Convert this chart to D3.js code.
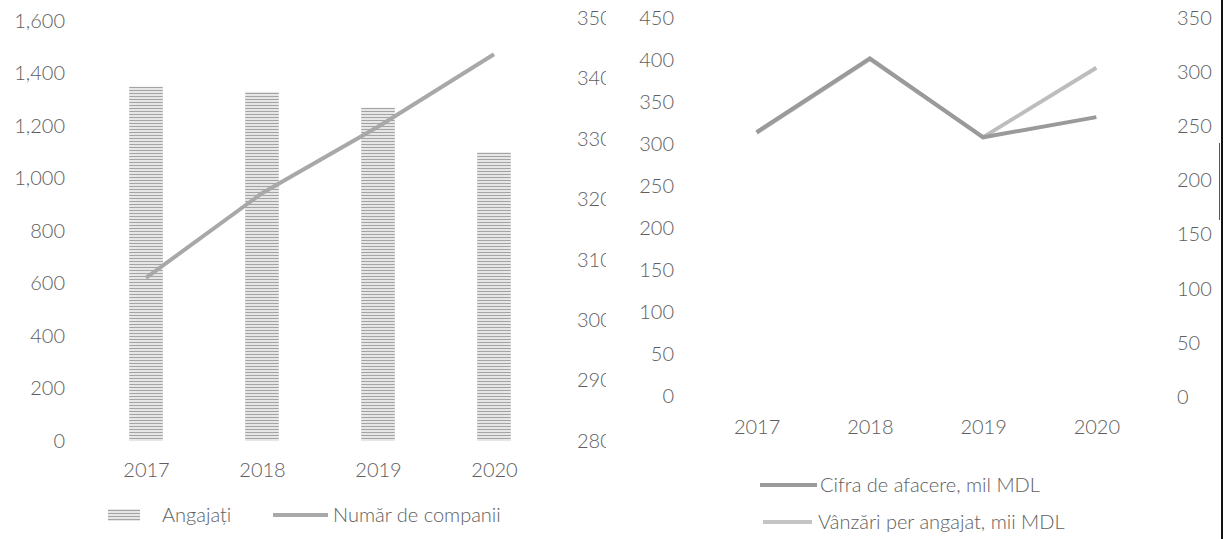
<!DOCTYPE html>
<html>
<head>
<meta charset="utf-8">
<script src="https://cdn.jsdelivr.net/npm/d3@7"></script>
<style>
  html, body { margin: 0; padding: 0; background: #fff; }
  svg { display: block; }
</style>
</head>
<body>
<svg id="chart" width="1225" height="539"></svg>
<script>
// Values
const years = ["2017", "2018", "2019", "2020"];
const angajati = [1350, 1330, 1270, 1100];
const companii = [307, 321, 332, 344];
const cifra = [314, 402, 308, 332];
const vanzari = [244, 312, 240, 304];

const ticksAngajati = [0, 200, 400, 600, 800, 1000, 1200, 1400, 1600];
const ticksCompanii = [280, 290, 300, 310, 320, 330, 340, 350];
const ticksCifra = [0, 50, 100, 150, 200, 250, 300, 350, 400, 450];
const ticksVanzari = [0, 50, 100, 150, 200, 250, 300, 350];

const font = "Lato, 'Open Sans', sans-serif";
const textColor = "#5e5e5e";

const svg = d3.select("#chart");

// halftone-ish fill, the original is a grey scan
const defs = svg.append("defs");
const pat = defs.append("pattern").attr("id", "scan")
    .attr("patternUnits", "userSpaceOnUse").attr("width", 3).attr("height", 3);
pat.append("rect").attr("width", 3).attr("height", 3).attr("fill", "#e6e6e6");
pat.append("rect").attr("width", 3).attr("height", 1).attr("fill", "#a4a4a4");

// Style an axis group: no domain/ticks, our font
function plain(g) {
    g.select(".domain").remove();
    g.selectAll(".tick line").remove();
    g.attr("font-family", font).attr("font-size", 20).attr("font-weight", 300).attr("color", textColor);
}

// ---------- left panel: Angajați (bars) + Număr de companii (line) ----------
const xA = d3.scalePoint().domain(years).range([88, 552]).padding(0.5);
const yA = d3.scaleLinear().domain([0, 1600]).range([441, 21]);
const yA2 = d3.scaleLinear().domain([280, 350]).range([441, 18]);
const barW = xA.step() * 0.29;

svg.append("g")
    .attr("transform", "translate(65,0)")
    .call(d3.axisLeft(yA).tickValues(ticksAngajati).tickFormat(d3.format(",")).tickSize(0).tickPadding(0))
    .call(plain);

// right-hand labels are cut off in the original
defs.append("clipPath").attr("id", "cutA")
    .append("rect").attr("x", 560).attr("y", 0).attr("width", 46).attr("height", 539);

svg.append("g")
    .attr("clip-path", "url(#cutA)")
    .append("g")
    .attr("transform", "translate(577,0)")
    .call(d3.axisRight(yA2).tickValues(ticksCompanii).tickSize(0).tickPadding(0))
    .call(plain);

svg.append("g")
    .attr("transform", "translate(0,470)")
    .call(d3.axisBottom(xA).tickSize(0).tickPadding(0))
    .call(plain)
    .call(g => g.selectAll("text").attr("y", 0).attr("dy", "0.35em"));

svg.append("g")
    .selectAll("rect")
    .data(years)
    .join("rect")
    .attr("x", (d) => xA(d) - barW / 2)
    .attr("width", barW)
    .attr("y", (d, i) => yA(angajati[i]))
    .attr("height", (d, i) => yA(0) - yA(angajati[i]))
    .attr("fill", "url(#scan)");

svg.append("path")
    .datum(companii)
    .attr("fill", "none")
    .attr("stroke", "#a8a8a8")
    .attr("stroke-width", 4)
    .attr("d", d3.line().x((d, i) => xA(years[i])).y(d => yA2(d)));

// ---------- right panel: Cifra de afacere + Vânzări per angajat ----------
const xB = d3.scalePoint().domain(years).range([700, 1153]).padding(0.5);
const yB = d3.scaleLinear().domain([0, 450]).range([396, 18]);
const yB2 = d3.scaleLinear().domain([0, 350]).range([397, 18]);

svg.append("g")
    .attr("transform", "translate(674,0)")
    .call(d3.axisLeft(yB).tickValues(ticksCifra).tickSize(0).tickPadding(0))
    .call(plain);

svg.append("g")
    .attr("transform", "translate(1177,0)")
    .call(d3.axisRight(yB2).tickValues(ticksVanzari).tickSize(0).tickPadding(0))
    .call(plain);

svg.append("g")
    .attr("transform", "translate(0,427)")
    .call(d3.axisBottom(xB).tickSize(0).tickPadding(0))
    .call(plain)
    .call(g => g.selectAll("text").attr("y", 0).attr("dy", "0.35em"));

svg.append("path")
    .datum(vanzari)
    .attr("fill", "none")
    .attr("stroke", "#bdbdbd")
    .attr("stroke-width", 4)
    .attr("d", d3.line().x((d, i) => xB(years[i])).y(d => yB2(d)));

svg.append("path")
    .datum(cifra)
    .attr("fill", "none")
    .attr("stroke", "#9a9a9a")
    .attr("stroke-width", 4)
    .attr("d", d3.line().x((d, i) => xB(years[i])).y(d => yB(d)));

// ---------- legends ----------
const legend = svg.append("g").attr("font-family", font).attr("font-size", 20)
    .attr("font-weight", 300).attr("fill", textColor);

legend.append("rect").attr("x", 108).attr("y", 509).attr("width", 32).attr("height", 12).attr("fill", "url(#scan)");
legend.append("text").attr("x", 162).attr("y", 515).attr("dy", "0.35em").text("Angajați");

legend.append("line").attr("x1", 273).attr("x2", 328).attr("y1", 515).attr("y2", 515)
    .attr("stroke", "#a8a8a8").attr("stroke-width", 4);
legend.append("text").attr("x", 333).attr("y", 515).attr("dy", "0.35em").text("Număr de companii");

legend.append("line").attr("x1", 760).attr("x2", 817).attr("y1", 485).attr("y2", 485)
    .attr("stroke", "#9a9a9a").attr("stroke-width", 4);
legend.append("text").attr("x", 820).attr("y", 485).attr("dy", "0.35em").text("Cifra de afacere, mil MDL");

legend.append("line").attr("x1", 763).attr("x2", 812).attr("y1", 522).attr("y2", 522)
    .attr("stroke", "#c4c4c4").attr("stroke-width", 4);
legend.append("text").attr("x", 818).attr("y", 522).attr("dy", "0.35em").text("Vânzări per angajat, mii MDL");

// page edge on the right of the scan
svg.append("line").attr("x1", 1222).attr("x2", 1222).attr("y1", 0).attr("y2", 539)
    .attr("stroke", "#111").attr("stroke-width", 2);
svg.append("line").attr("x1", 1219.5).attr("x2", 1219.5).attr("y1", 143).attr("y2", 220)
    .attr("stroke", "#555").attr("stroke-width", 1);
</script>
</body>
</html>
